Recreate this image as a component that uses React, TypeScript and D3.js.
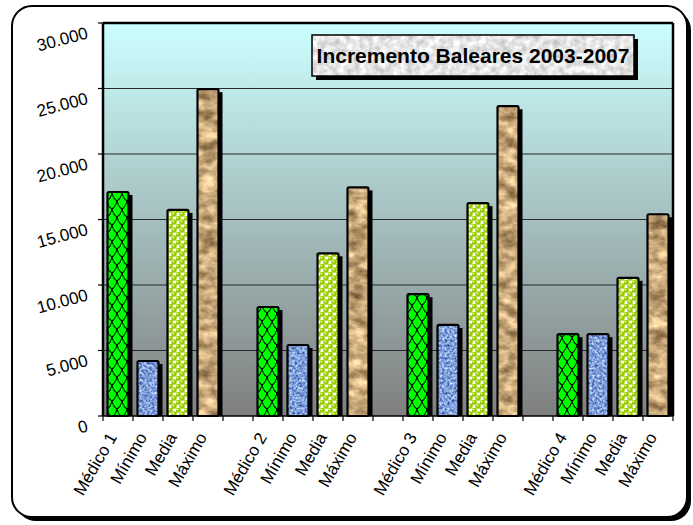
import React from 'react';
import * as d3 from 'd3';

const groups = ["Médico 1", "Médico 2", "Médico 3", "Médico 4"];
const seriesLabels = ["Mínimo", "Media", "Máximo"];
const medicoValues = [17100, 8320, 9300, 6250];
const minimoValues = [4200, 5420, 6950, 6250];
const mediaValues = [15730, 12420, 16250, 10550];
const maximoValues = [24950, 17450, 23650, 15400];
const yTicks = [0, 5000, 10000, 15000, 20000, 25000, 30000];
const yTickLabels = ["0", "5.000", "10.000", "15.000", "20.000", "25.000", "30.000"];
const title = "Incremento Baleares 2003-2007";

type Row = { idx: number; label: string; value: number | null; kind: number };

const rows: Row[] = [];
groups.forEach((g, gi) => {
  const vals = [medicoValues[gi], minimoValues[gi], mediaValues[gi], maximoValues[gi]];
  const labels = [g, ...seriesLabels];
  labels.forEach((l, k) => rows.push({ idx: rows.length, label: l, value: vals[k], kind: k }));
  if (gi < groups.length - 1) rows.push({ idx: rows.length, label: "", value: null, kind: -1 });
});

const FONT = "'Liberation Sans', Arial, sans-serif";

export default function App() {
  const W = 693, H = 525;
  const left = 103, right = 673, top = 23, bottom = 416;
  const x = d3.scaleBand<number>().domain(rows.map(r => r.idx)).range([left, right]);
  const y = d3.scaleLinear().domain([0, 30000]).range([bottom, top]);
  const bw = x.bandwidth() * 0.7;
  const fills = ["url(#scales)", "#8fb0e0", "url(#balls)", "#c8a57a"];
  const filters = [undefined, "url(#blueTex)", undefined, "url(#brownTex)"];

  return (
    <svg width={W} height={H} style={{ position: 'absolute', left: 0, top: 0 }} fontFamily={FONT}>
      <defs>
        <linearGradient id="bg" x1="0" y1="0" x2="0" y2="1">
          <stop offset="0" stopColor="#ccffff" />
          <stop offset="1" stopColor="#7f7f7f" />
        </linearGradient>
        <pattern id="scales" patternUnits="userSpaceOnUse" width="10" height="16" x="2">
          <rect width="10" height="16" fill="#00ff00" />
          <path d="M0,0 Q0.5,6 5,9 Q9.5,6 10,0 M-5,8 Q-4.5,14 0,17 Q4.5,14 5,8 Q5.5,14 10,17 Q14.5,14 15,8 M-5,-8 Q-4.5,-2 0,1 Q4.5,-2 5,-8 Q5.5,-2 10,1 Q14.5,-2 15,-8" fill="none" stroke="#000" strokeWidth="1.1" />
        </pattern>
        <pattern id="balls" patternUnits="userSpaceOnUse" width="8" height="8">
          <rect width="8" height="8" fill="#ffffff" />
          <circle cx="2" cy="2" r="2.8" fill="#99cc00" />
          <circle cx="6" cy="6" r="2.8" fill="#99cc00" />
          <circle cx="6" cy="-2" r="2.8" fill="#99cc00" />
          <circle cx="-2" cy="6" r="2.8" fill="#99cc00" />
          <circle cx="1.3" cy="1.3" r="0.9" fill="#ffffff" />
          <circle cx="5.3" cy="5.3" r="0.9" fill="#ffffff" />
        </pattern>
        <filter id="brownTex" x="0" y="0" width="1" height="1" colorInterpolationFilters="sRGB">
          <feTurbulence type="fractalNoise" baseFrequency="0.06 0.1" numOctaves="4" seed="3" result="n" />
          <feColorMatrix in="n" type="matrix" values="0.9 0 0 0 0.33  0.85 0 0 0 0.23  0.75 0 0 0 0.1  0 0 0 0 1" result="c" />
          <feComposite in="c" in2="SourceGraphic" operator="in" />
        </filter>
        <filter id="blueTex" x="0" y="0" width="1" height="1" colorInterpolationFilters="sRGB">
          <feTurbulence type="fractalNoise" baseFrequency="0.4" numOctaves="3" seed="7" result="n" />
          <feColorMatrix in="n" type="matrix" values="1.0 0 0 0 0.0  1.0 0 0 0 0.12  0.6 0 0 0 0.55  0 0 0 0 1" result="c" />
          <feComposite in="c" in2="SourceGraphic" operator="in" />
        </filter>
        <filter id="grayTex" x="0" y="0" width="1" height="1" colorInterpolationFilters="sRGB">
          <feTurbulence type="fractalNoise" baseFrequency="0.15" numOctaves="3" seed="2" result="n" />
          <feColorMatrix in="n" type="matrix" values="0.4 0 0 0 0.7  0.4 0 0 0 0.7  0.4 0 0 0 0.7  0 0 0 0 1" result="c" />
          <feComposite in="c" in2="SourceGraphic" operator="in" />
        </filter>
      </defs>

      {/* outer frame */}
      <rect x={16} y={10} width={675} height={511} rx={20} fill="#000" />
      <rect x={12} y={6} width={675} height={511} rx={20} fill="#fff" stroke="#000" strokeWidth={2} />

      {/* plot area */}
      <rect x={left} y={top} width={right - left} height={bottom - top} fill="url(#bg)" />
      {yTicks.map((t, i) => (
        <g key={i}>
          {i > 0 && <line x1={left} x2={right} y1={y(t)} y2={y(t)} stroke="#2a2a2a" strokeWidth={1.2} />}
          <line x1={left - 5} x2={left} y1={y(t)} y2={y(t)} stroke="#000" strokeWidth={1.2} />
          <text x={89} y={y(t) + 15} transform={`rotate(-15 89 ${y(t) + 15})`} textAnchor="end" fontSize={17} fill="#000">{yTickLabels[i]}</text>
        </g>
      ))}

      {/* title box */}
      <rect x={316} y={39} width={322} height={41} fill="#000" />
      <rect x={312} y={35} width={322} height={41} fill="#e6e6e6" filter="url(#grayTex)" />
      <rect x={312} y={35} width={322} height={41} fill="none" stroke="#000" strokeWidth={1.5} />
      <text x={473} y={63} textAnchor="middle" fontSize={21} fontWeight="bold" fill="#000">{title}</text>

      {/* bars */}
      {rows.filter(r => r.value !== null).map(r => {
        const bx = (x(r.idx) as number) + (x.bandwidth() - bw) / 2;
        const by = y(r.value as number);
        const bh = bottom - by;
        return (
          <g key={r.idx}>
            <rect x={bx + 4} y={by + 3} width={bw} height={bh - 3} fill="#000" />
            <rect x={bx} y={by} width={bw} height={bh} fill={fills[r.kind]} filter={filters[r.kind]} />
            <rect x={bx} y={by} width={bw} height={bh} fill="none" stroke="#000" strokeWidth={2.2} rx={1.5} />
          </g>
        );
      })}

      {/* plot border */}
      <line x1={left} x2={left} y1={top} y2={bottom} stroke="#000" strokeWidth={2.5} />
      <line x1={left} x2={right} y1={top} y2={top} stroke="#000" strokeWidth={2.5} />
      <line x1={right} x2={right} y1={top} y2={bottom} stroke="#000" strokeWidth={2.5} />
      <line x1={left} x2={right} y1={bottom} y2={bottom} stroke="#000" strokeWidth={1.5} />

      {/* x ticks */}
      {d3.range(rows.length + 1).map(i => {
        const tx = left + i * x.bandwidth();
        return <line key={i} x1={tx} x2={tx} y1={bottom} y2={bottom + 5} stroke="#000" strokeWidth={1.2} />;
      })}
      {rows.map(r => {
        const cx = (x(r.idx) as number) + x.bandwidth() / 2 - 0.5;
        return r.label ? (
          <text key={r.idx} x={cx} y={437} transform={`rotate(-60 ${cx} 437)`} textAnchor="end" fontSize={17} fill="#000">{r.label}</text>
        ) : null;
      })}
    </svg>
  );
}
